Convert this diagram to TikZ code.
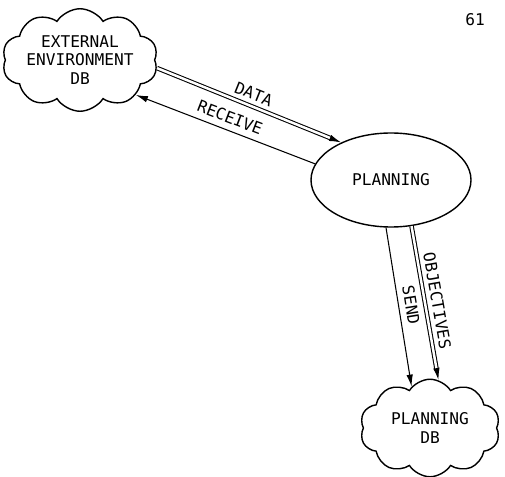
\documentclass[tikz,border=0pt]{standalone}
\usepackage{fontspec}
\setmonofont{DejaVu Sans Mono}
\usetikzlibrary{shapes.symbols,shapes.geometric,arrows.meta}

\begin{document}
\begin{tikzpicture}[semithick,font=\ttfamily\fontsize{9.2}{10.5}\selectfont,
  >={Latex[length=2.4mm,width=1.3mm]},
  store/.style={draw,thick,cloud,cloud puffs=10,cloud puff arc=115,cloud ignores aspect,align=center,inner sep=0pt},
  dbl/.style={double,double distance=1.4pt}]
\useasboundingbox (0,0) rectangle (10.1,9.52);
\node[store,minimum width=2.95cm,minimum height=2.05cm] (extdb) at (1.6,8.32) {EXTERNAL\\ENVIRONMENT\\DB};
\node[draw,thick,ellipse,minimum width=3.2cm,minimum height=1.88cm] (plan) at (7.82,5.92) {PLANNING};
\node[store,minimum width=2.8cm,minimum height=1.95cm] (plandb) at (8.6,0.96) {PLANNING\\DB};
\node (page) at (9.5,9.12) {61};
% flows
\draw[dbl,->] (extdb.-6) -- node[above,sloped] {DATA} (plan.143);
\draw[->] (plan.168) -- node[above,sloped] {RECEIVE} (extdb.-32);
\draw[->] (plan.-96) -- node[above,sloped] {SEND} (plandb.114);
\draw[dbl,->] (plan.-66) -- node[above,sloped] {OBJECTIVES} (plandb.80);
\end{tikzpicture}
\end{document}
